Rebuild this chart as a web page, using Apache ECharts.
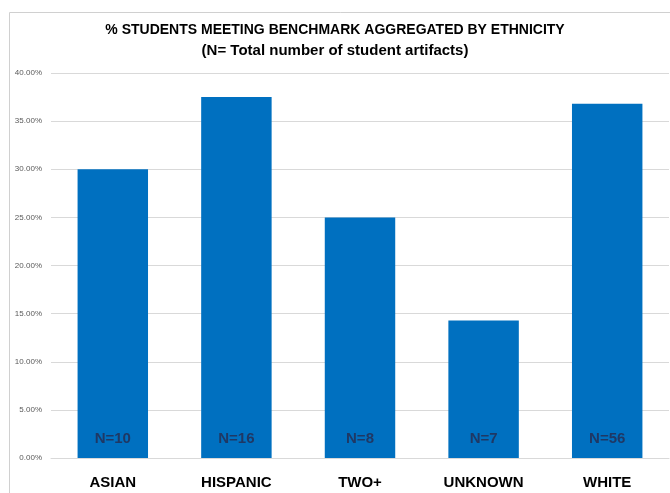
<!DOCTYPE html>
<html>
<head>
<meta charset="utf-8">
<script src="https://cdn.jsdelivr.net/npm/echarts@6/dist/echarts.min.js"></script>
<style>
html,body{margin:0;padding:0;background:#fff;}
#chart{width:670px;height:493px;}
</style>
</head>
<body>
<div id="chart"></div>
<script>
const titleText = '% STUDENTS MEETING BENCHMARK AGGREGATED BY ETHNICITY';
const subtitleText = '(N= Total number of student artifacts)';
const categories = ['ASIAN', 'HISPANIC', 'TWO+', 'UNKNOWN', 'WHITE'];
const percentMeeting = [0.30, 0.375, 0.25, 0.1429, 0.368];
const nLabels = ['N=10', 'N=16', 'N=8', 'N=7', 'N=56'];
const yTicks = {min: 0, max: 0.40, interval: 0.05};

const chart = echarts.init(document.getElementById('chart'), null, {renderer: 'canvas'});
const font = '"Liberation Sans", Arial, sans-serif';
chart.setOption({
  backgroundColor: '#ffffff',
  animation: false,
  graphic: [{
    type: 'rect', left: 7, top: 10, silent: true,
    shape: {width: 670, height: 500},
    style: {fill: 'none', stroke: '#d0d0d0', lineWidth: 1}
  }],
  title: [{
    text: titleText,
    left: 'center', top: 18,
    textStyle: {fontFamily: font, fontWeight: 'bold', fontSize: 14, color: '#000'}
  }, {
    text: subtitleText,
    left: 'center', top: 38,
    textStyle: {fontFamily: font, fontWeight: 'bold', fontSize: 15, color: '#000'}
  }],
  grid: {left: 51, right: 1, top: 73, bottom: 35, containLabel: false},
  xAxis: {
    type: 'category',
    data: categories,
    axisLine: {show: true, lineStyle: {color: '#d9d9d9', width: 1}},
    axisTick: {show: false},
    axisLabel: {fontFamily: font, fontWeight: 'bold', fontSize: 15, color: '#000', margin: 17}
  },
  yAxis: {
    type: 'value',
    min: yTicks.min, max: yTicks.max, interval: yTicks.interval,
    axisLine: {show: false},
    axisTick: {show: false},
    splitLine: {lineStyle: {color: '#d9d9d9', width: 1}},
    axisLabel: {
      fontFamily: font, fontSize: 8, color: '#595959', margin: 9,
      formatter: v => (v * 100).toFixed(2) + '%'
    }
  },
  series: [{
    type: 'bar',
    data: percentMeeting,
    barWidth: '57%',
    itemStyle: {color: '#0070c0'},
    label: {
      show: true, position: 'insideBottom', distance: 12,
      formatter: p => nLabels[p.dataIndex],
      fontFamily: font, fontWeight: 'bold', fontSize: 15, color: '#1f3864'
    }
  }]
});
</script>
</body>
</html>
